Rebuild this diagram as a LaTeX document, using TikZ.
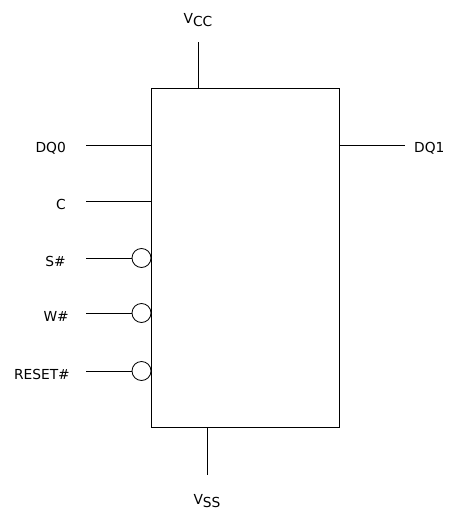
\documentclass[tikz,border=0pt]{standalone}
\usepackage{fontspec}
\setmainfont{DejaVu Sans}
\begin{document}
\begin{tikzpicture}[x=1pt,y=-1pt,
  pin line/.style={line width=0.8pt},
  bubble/.style={circle,draw,line width=0.8pt,minimum size=19pt,inner sep=0pt},
  lbl/.style={font=\fontsize{13.8}{16}\selectfont,inner sep=0pt}]
\useasboundingbox (0,0) rectangle (449,514);
\node[draw,line width=0.8pt,minimum width=188pt,minimum height=339pt,inner sep=0pt] (chip) at (245,257.5) {};
% VCC
\coordinate (vcct) at (198,42);
\coordinate (vccb) at (198,88);
\draw[pin line] (vcct) -- (vccb);
\node[lbl] (vcc) at (198,20) {V\raisebox{-0.45ex}{CC}};
% VSS
\coordinate (vsst) at (207,427);
\coordinate (vssb) at (207,475);
\draw[pin line] (vsst) -- (vssb);
\node[lbl] (vss) at (207,501) {V\raisebox{-0.45ex}{SS}};
% DQ0
\coordinate (dq0a) at (86,145);
\coordinate (dq0b) at (151,145);
\draw[pin line] (dq0a) -- (dq0b);
\node[lbl,anchor=east] (dq0) at (66,148) {DQ0};
% DQ1
\coordinate (dq1a) at (339,145);
\coordinate (dq1b) at (405,145);
\draw[pin line] (dq1a) -- (dq1b);
\node[lbl,anchor=west] (dq1) at (414,148) {DQ1};
% C
\coordinate (ca) at (86,201);
\coordinate (cb) at (151,201);
\draw[pin line] (ca) -- (cb);
\node[lbl,anchor=east] (c) at (66,204) {C};
% S#
\coordinate (sa) at (86,258);
\node[bubble] (sb) at (141.5,258) {};
\draw[pin line] (sa) -- (sb);
\node[lbl,anchor=east] (s) at (66,261) {S\#};
% W#
\coordinate (wa) at (86,313);
\node[bubble] (wb) at (141.5,313) {};
\draw[pin line] (wa) -- (wb);
\node[lbl,anchor=east] (w) at (69,316) {W\#};
% RESET#
\coordinate (ra) at (86,371);
\node[bubble] (rb) at (141.5,371) {};
\draw[pin line] (ra) -- (rb);
\node[lbl,anchor=east] (r) at (70,374) {RESET\#};
\end{tikzpicture}
\end{document}
